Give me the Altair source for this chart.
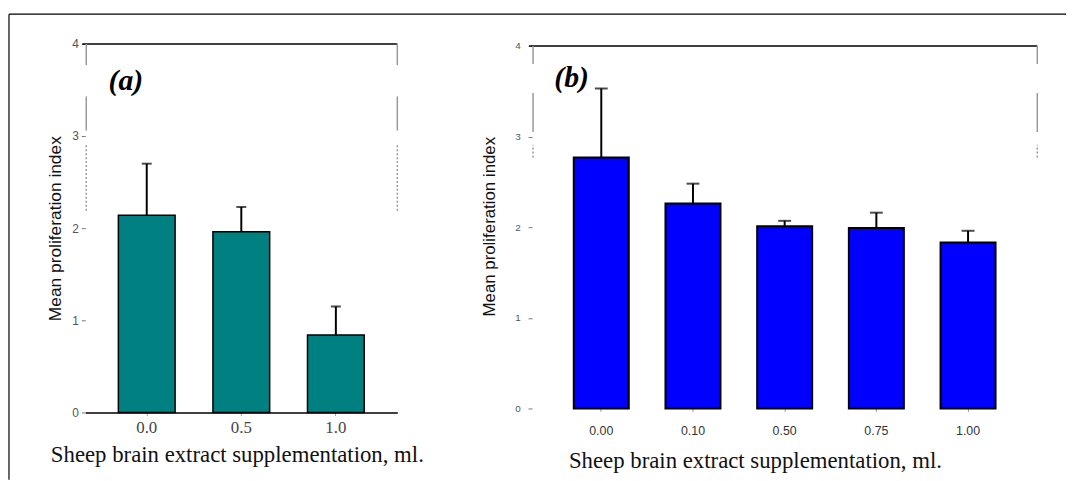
import altair as alt
import pandas as pd

# ---- data: panel (a)
doses_a = ["0.0", "0.5", "1.0"]
means_a = [2.14, 1.96, 0.84]
upper_a = [2.70, 2.23, 1.15]

# ---- data: panel (b)
doses_b = ["0.00", "0.10", "0.50", "0.75", "1.00"]
means_b = [2.77, 2.26, 2.01, 1.99, 1.83]
upper_b = [3.53, 2.48, 2.07, 2.16, 1.96]

y_ticks = [0, 1, 2, 3, 4]

# broken side-frame segments (scan look), in y-units
seg_a_lo = [3.77, 3.06]
seg_a_hi = [4.00, 3.43]
dot_a_lo = [2.19]
dot_a_hi = [2.90]
seg_b_lo = [3.80, 3.05]
seg_b_hi = [4.00, 3.48]
dot_b_lo = [2.77]
dot_b_hi = [2.91]

W_A, H_A = 315, 372
W_B, H_B = 510, 368

df_a = pd.DataFrame({"dose": doses_a, "mean": means_a, "upper": upper_a})
df_b = pd.DataFrame({"dose": doses_b, "mean": means_b, "upper": upper_b})
one = pd.DataFrame({"k": [0]})


def side_segments(lo, hi, xpos, dash):
    d = pd.DataFrame({"lo": lo, "hi": hi})
    kw = dict(color="#999999", strokeWidth=1.5)
    if dash:
        kw["strokeDash"] = [2, 2]
    return alt.Chart(d).mark_rule(**kw).encode(
        x=alt.value(xpos), y="lo:Q", y2="hi:Q"
    )


def panel(df, doses, color, width, height, ydomain, po, xaxis, yaxis,
          cap, label, label_dx, label_y,
          seg_lo, seg_hi, dot_lo, dot_hi, bar_stroke):
    x = alt.X("dose:N", sort=doses,
              scale=alt.Scale(paddingInner=0.4, paddingOuter=po),
              axis=xaxis)
    y = alt.Y("mean:Q", scale=alt.Scale(domain=ydomain, nice=False, zero=True),
              axis=yaxis)
    base = alt.Chart(df)
    bars = base.mark_bar(color=color, stroke="black",
                         strokeWidth=bar_stroke).encode(x=x, y=y)
    err = base.mark_rule(color="black", strokeWidth=2).encode(
        x=alt.X("dose:N", sort=doses), y="mean:Q", y2="upper:Q")
    caps = base.mark_tick(color="black", thickness=2, size=cap).encode(
        x=alt.X("dose:N", sort=doses), y="upper:Q")
    top = alt.Chart(one).mark_rule(color="black", strokeWidth=1.5).encode(
        y=alt.datum(4), x=alt.value(-3), x2=alt.value(width))
    txt = alt.Chart(one).mark_text(
        text=label, font="Liberation Serif", fontStyle="italic",
        fontWeight="bold", fontSize=30,
        baseline="middle", align="center", dx=label_dx, color="black"
    ).encode(x=alt.datum(doses[0]), y=alt.datum(label_y))
    layers = [bars, err, caps, top, txt,
              side_segments(seg_lo, seg_hi, 1, False),
              side_segments(seg_lo, seg_hi, width, False),
              side_segments(dot_lo, dot_hi, 1, True),
              side_segments(dot_lo, dot_hi, width, True)]
    return alt.layer(*layers).properties(width=width, height=height)


xaxis_a = alt.Axis(
    title="Sheep brain extract supplementation, ml.",
    titleFont="Liberation Serif", titleFontSize=23, titleFontWeight="normal",
    titleColor="#111111", titleX=153, titleY=50, titleAlign="center",
    titleBaseline="alphabetic",
    labelAngle=0, labelFont="Liberation Serif", labelFontSize=17,
    labelColor="#444444", labelBaseline="alphabetic", labelPadding=17,
    tickSize=3, tickColor="#999999", domainColor="black", domainWidth=1.5,
)
yaxis_a = alt.Axis(
    values=y_ticks, format="d", title="Mean proliferation index",
    titleFont="Liberation Sans", titleFontSize=17.5, titleFontWeight="normal",
    titleColor="#111111", titleX=-30, titleY=186, titleAngle=270,
    titleAlign="center", titleBaseline="middle",
    labelFont="Liberation Sans", labelFontSize=12, labelColor="#555555",
    labelPadding=3, tickSize=4, tickColor="#777777", domain=False, grid=False,
)
xaxis_b = alt.Axis(
    title="Sheep brain extract supplementation, ml.",
    titleFont="Liberation Serif", titleFontSize=23, titleFontWeight="normal",
    titleColor="#111111", titleX=225, titleY=60, titleAlign="center",
    titleBaseline="alphabetic",
    labelAngle=0, labelFont="Liberation Sans", labelFontSize=12.5,
    labelColor="#333333", labelBaseline="alphabetic", labelPadding=23,
    tickSize=3, tickColor="#999999", domain=False,
)
yaxis_b = alt.Axis(
    values=y_ticks, format="d", title="Mean proliferation index",
    titleFont="Liberation Sans", titleFontSize=17, titleFontWeight="normal",
    titleColor="#111111", titleX=-43, titleY=184, titleAngle=270,
    titleAlign="center", titleBaseline="middle",
    labelFont="Liberation Sans", labelFontSize=10, labelColor="#555555",
    labelPadding=8, tickSize=4, tickColor="#777777", domain=False, grid=False,
)

pa = panel(df_a, doses_a, "#008080", W_A, H_A, [0, 4], 0.35, xaxis_a, yaxis_a,
           10, "(a)", -21, 3.60,
           seg_a_lo, seg_a_hi, dot_a_lo, dot_a_hi, 1.5)

# outer frame of the figure (left and top border lines)
frame_left = alt.Chart(one).mark_rule(color="black", strokeWidth=1.2).encode(
    x=alt.value(-77), y=alt.value(-30), y2=alt.value(440))
frame_top = alt.Chart(one).mark_rule(color="black", strokeWidth=1.2).encode(
    y=alt.value(-30), x=alt.value(-77), x2=alt.value(990))
pa = alt.layer(pa, frame_left, frame_top)

pb = panel(df_b, doses_b, "#0000FF", W_B, H_B, [0, 4.022], 0.455, xaxis_b, yaxis_b,
           13, "(b)", -30, 3.64,
           seg_b_lo, seg_b_hi, dot_b_lo, dot_b_hi, 2)

chart = alt.hconcat(pa, pb, spacing=136, bounds="flush").properties(
    padding={"left": 0, "top": 3, "right": 0, "bottom": 0}
).configure_view(stroke=None)

chart.save("out.html", embed_options={"renderer": "svg", "actions": False})
